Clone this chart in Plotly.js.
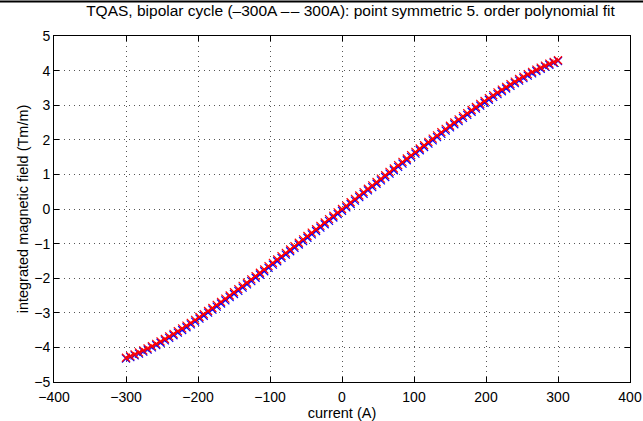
<!DOCTYPE html>
<html>
<head>
<meta charset="utf-8">
<script src="https://cdn.plot.ly/plotly-3.0.1.min.js"></script>
<style>html,body{margin:0;padding:0;background:#fff;}#chart{width:643px;height:421px;}</style>
</head>
<body>
<div id="chart"></div>
<script>
const current = [-300,-294,-288,-282,-276,-270,-264,-258,-252,-246,-240,-234,-228,-222,-216,-210,-204,-198,-192,-186,-180,-174,-168,-162,-156,-150,-144,-138,-132,-126,-120,-114,-108,-102,-96,-90,-84,-78,-72,-66,-60,-54,-48,-42,-36,-30,-24,-18,-12,-6,0,6,12,18,24,30,36,42,48,54,60,66,72,78,84,90,96,102,108,114,120,126,132,138,144,150,156,162,168,174,180,186,192,198,204,210,216,222,228,234,240,246,252,258,264,270,276,282,288,294,300];

const measured = [-4.322,-4.280,-4.231,-4.178,-4.121,-4.062,-3.999,-3.934,-3.866,-3.796,-3.724,-3.650,-3.574,-3.496,-3.417,-3.336,-3.253,-3.169,-3.084,-2.997,-2.910,-2.821,-2.731,-2.641,-2.549,-2.457,-2.365,-2.271,-2.177,-2.083,-1.988,-1.893,-1.798,-1.702,-1.606,-1.510,-1.413,-1.317,-1.220,-1.123,-1.025,-0.928,-0.831,-0.733,-0.636,-0.538,-0.441,-0.343,-0.245,-0.148,-0.050,0.048,0.145,0.243,0.341,0.438,0.536,0.633,0.731,0.828,0.925,1.023,1.120,1.217,1.313,1.410,1.506,1.602,1.698,1.793,1.888,1.983,2.077,2.171,2.265,2.357,2.449,2.541,2.632,2.722,2.811,2.899,2.986,3.072,3.157,3.240,3.322,3.403,3.482,3.560,3.636,3.711,3.783,3.853,3.922,3.988,4.051,4.113,4.170,4.226,4.278];

const fitted = [-4.300,-4.252,-4.200,-4.145,-4.087,-4.026,-3.963,-3.896,-3.827,-3.756,-3.683,-3.608,-3.531,-3.452,-3.372,-3.290,-3.206,-3.122,-3.036,-2.949,-2.861,-2.772,-2.682,-2.591,-2.499,-2.407,-2.315,-2.221,-2.127,-2.033,-1.938,-1.843,-1.748,-1.652,-1.556,-1.460,-1.363,-1.267,-1.170,-1.073,-0.975,-0.878,-0.781,-0.683,-0.586,-0.488,-0.391,-0.293,-0.195,-0.098,0,0.098,0.195,0.293,0.391,0.488,0.586,0.683,0.781,0.878,0.975,1.073,1.170,1.267,1.363,1.460,1.556,1.652,1.748,1.843,1.938,2.033,2.127,2.221,2.315,2.407,2.499,2.591,2.682,2.772,2.861,2.949,3.036,3.122,3.206,3.290,3.372,3.452,3.531,3.608,3.683,3.756,3.827,3.896,3.963,4.026,4.087,4.145,4.200,4.252,4.300];

const xTicks = [-400,-300,-200,-100,0,100,200,300,400];
const yTicks = [-5,-4,-3,-2,-1,0,1,2,3,4,5];
const lbl = v => (v < 0 ? '\u2212' + Math.abs(v) : String(v));

const FONT = 'Liberation Sans, Arial, Helvetica, sans-serif';

const traces = [
  {x: current, y: measured, type: 'scatter', mode: 'markers',
   marker: {symbol: 'x-thin-open', size: 8, color: '#0000ff', line: {color: '#0000ff', width: 1.2}},
   hoverinfo: 'skip', showlegend: false},
  {x: current, y: fitted, type: 'scatter', mode: 'lines+markers',
   line: {color: '#ff0000', width: 1.3},
   marker: {symbol: 'x-thin-open', size: 8, color: '#ff0000', line: {color: '#ff0000', width: 1.2}},
   hoverinfo: 'skip', showlegend: false}
];

const axisCommon = {
  showline: true, linecolor: '#000', linewidth: 1, mirror: 'ticks',
  ticks: 'inside', ticklen: 5, tickwidth: 1, tickcolor: '#000',
  showgrid: true, gridcolor: '#555', griddash: '1px,4px', gridwidth: 1,
  zeroline: false, tickfont: {family: FONT, size: 14, color: '#000'},
  tickmode: 'array'
};

const layout = {
  width: 643, height: 421,
  margin: {l: 54, r: 13, t: 36, b: 39},
  paper_bgcolor: '#fff', plot_bgcolor: '#fff',
  font: {family: FONT, color: '#000'},
  title: {text: 'TQAS, bipolar cycle (\u2013300A \u2013\u200a\u2013 300A): point symmetric 5. order polynomial fit',
          font: {family: FONT, size: 15.5, color: '#000'}, x: 0.545, xanchor: 'center', y: 0.974, yanchor: 'middle'},
  xaxis: Object.assign({}, axisCommon, {range: [-400, 400], tickvals: xTicks, ticktext: xTicks.map(lbl),
          ticklabelstandoff: 2,
          title: {text: 'current (A)', font: {family: FONT, size: 14.5, color: '#000'}, standoff: 0}}),
  yaxis: Object.assign({}, axisCommon, {range: [-5, 5], tickvals: yTicks, ticktext: yTicks.map(lbl),
          title: {text: 'integrated magnetic field (Tm/m)', font: {family: FONT, size: 14.5, color: '#000'}, standoff: 2}}),
  shapes: [{type: 'line', xref: 'paper', yref: 'paper', x0: -0.1, x1: 1.1, y0: 1.1, y1: 1.1,
            line: {color: '#000', width: 2}}]
};

Plotly.newPlot('chart', traces, layout, {displayModeBar: false, staticPlot: true});
</script>
</body>
</html>
